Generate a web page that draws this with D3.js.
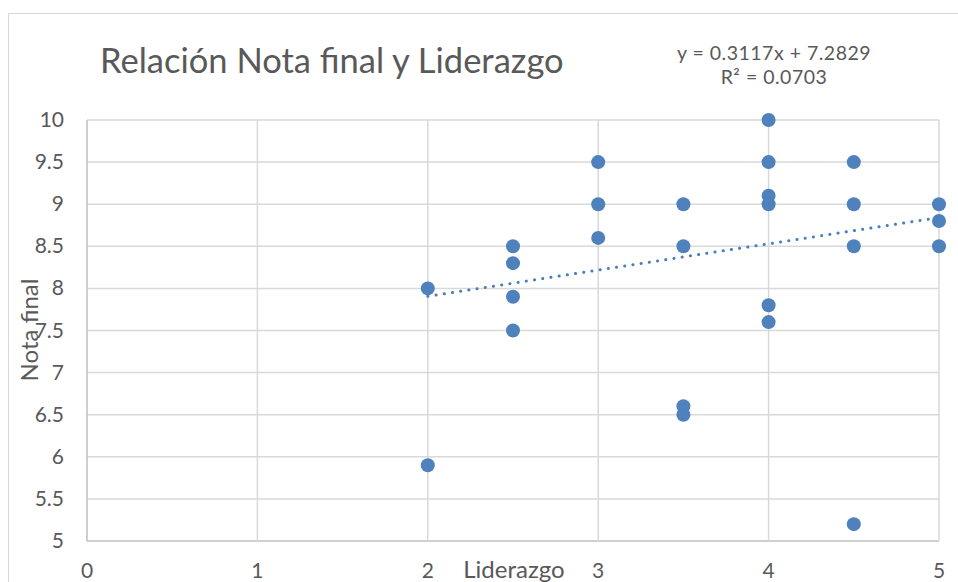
<!DOCTYPE html>
<html>
<head>
<meta charset="utf-8">
<script src="https://cdn.jsdelivr.net/npm/d3@7"></script>
<style>
  body { margin: 0; background: #fff; }
  text { font-family: Lato, "Open Sans", sans-serif; fill: #595959; }
</style>
</head>
<body>
<script>
"use strict";

const width = 958;
const height = 582;

// data
const liderazgo = [2, 2, 2.5, 2.5, 2.5, 2.5, 3, 3, 3, 3.5, 3.5, 3.5, 3.5,
                   4, 4, 4, 4, 4, 4, 4.5, 4.5, 4.5, 4.5, 5, 5, 5];
const notaFinal = [8.0, 5.9, 8.5, 8.3, 7.9, 7.5, 9.5, 9.0, 8.6, 9.0, 8.5, 6.6, 6.5,
                   10, 9.5, 9.1, 9.0, 7.8, 7.6, 9.5, 9.0, 8.5, 5.2, 9.0, 8.8, 8.5];
const xTicks = [0, 1, 2, 3, 4, 5];
const yTicks = [5, 5.5, 6, 6.5, 7, 7.5, 8, 8.5, 9, 9.5, 10];
const slope = 0.3117;
const intercept = 7.2829;
const r2 = 0.0703;

const margin = {top: 120, right: 19, bottom: 41, left: 87};

let svg = d3.select('body').append('svg')
    .attr('width', width)
    .attr('height', height);

// chart area border
svg.append('rect')
    .attr('x', 8.5).attr('y', 13.5)
    .attr('width', 960).attr('height', 600)
    .attr('fill', 'none')
    .attr('stroke', '#d9d9d9')
    .attr('stroke-width', 1);

let x = d3.scaleLinear().domain([0, 5]).range([margin.left, width - margin.right]);
let y = d3.scaleLinear().domain([5, 10]).range([height - margin.bottom, margin.top]);

let grid = svg.append('g');
grid.selectAll('line.h')
    .data(yTicks)
    .enter().append('line')
    .attr('x1', x(0)).attr('x2', x(5))
    .attr('y1', d => y(d)).attr('y2', d => y(d))
    .attr('stroke', d => d === 5 ? '#bfbfbf' : '#d9d9d9')
    .attr('stroke-width', 1.5);
grid.selectAll('line.v')
    .data(xTicks)
    .enter().append('line')
    .attr('y1', y(5)).attr('y2', y(10))
    .attr('x1', d => x(d)).attr('x2', d => x(d))
    .attr('stroke', d => d === 0 ? '#bfbfbf' : '#d9d9d9')
    .attr('stroke-width', 1.5);

// tick labels
svg.selectAll('text.yt')
    .data(yTicks)
    .enter().append('text')
    .attr('x', 64)
    .attr('y', d => y(d) + 7)
    .attr('text-anchor', 'end')
    .style('font-size', '21px')
    .text(d => d);

svg.selectAll('text.xt')
    .data(xTicks)
    .enter().append('text')
    .attr('x', d => x(d))
    .attr('y', 578)
    .attr('text-anchor', 'middle')
    .style('font-size', '21px')
    .text(d => d);

// axis titles
svg.append('text')
    .attr('transform', 'translate(38,330) rotate(-90)')
    .attr('text-anchor', 'middle')
    .style('font-size', '24px')
    .text('Nota final');

svg.append('text')
    .attr('x', 514).attr('y', 578)
    .attr('text-anchor', 'middle')
    .style('font-size', '24px')
    .text('Liderazgo');

// title
svg.append('text')
    .attr('x', 100).attr('y', 73)
    .style('font-size', '34.5px')
    .text('Relación Nota final y Liderazgo');

// trendline label
svg.append('text')
    .attr('x', 774).attr('y', 60)
    .attr('text-anchor', 'middle')
    .style('font-size', '19.5px')
    .style('letter-spacing', '0.5px')
    .text('y = ' + slope + 'x + ' + intercept);
svg.append('text')
    .attr('x', 774).attr('y', 84)
    .attr('text-anchor', 'middle')
    .style('font-size', '19.5px')
    .style('letter-spacing', '0.5px')
    .text('R² = ' + r2);

// points
let points = liderazgo.map((d, i) => [d, notaFinal[i]]);
svg.append('g').selectAll('circle')
    .data(points)
    .enter().append('circle')
    .attr('cx', d => x(d[0]))
    .attr('cy', d => y(d[1]))
    .attr('r', 7)
    .attr('fill', '#4f81bd');

// trendline
let xmin = d3.min(liderazgo), xmax = d3.max(liderazgo);
svg.append('line')
    .attr('x1', x(xmin)).attr('y1', y(slope * xmin + intercept))
    .attr('x2', x(xmax)).attr('y2', y(slope * xmax + intercept))
    .attr('stroke', '#4a7ebb')
    .attr('stroke-width', 3)
    .attr('stroke-linecap', 'round')
    .attr('stroke-dasharray', '0.1 8.2');
</script>
</body>
</html>
